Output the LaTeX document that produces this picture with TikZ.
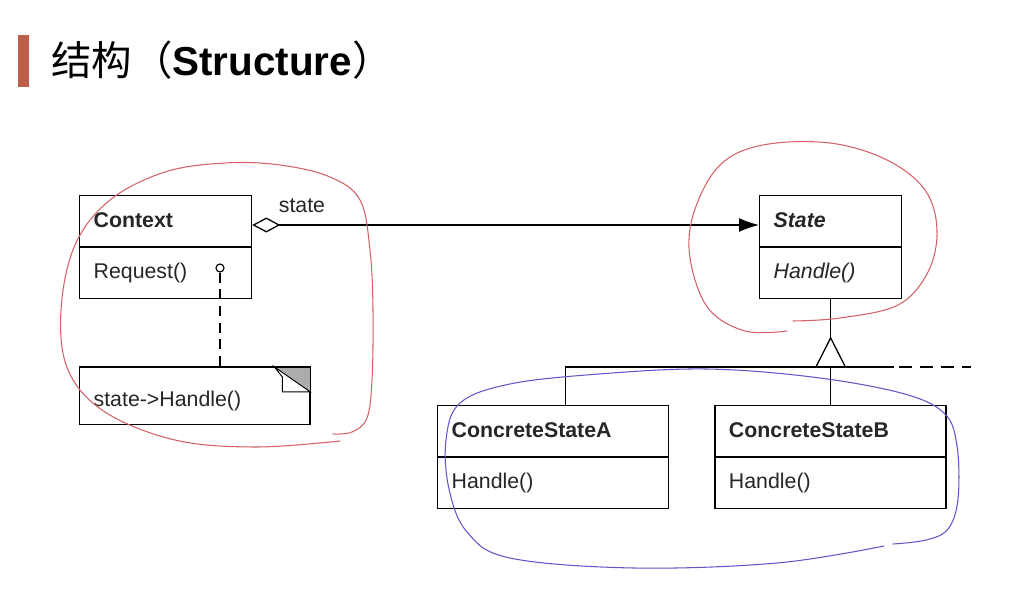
\documentclass[tikz,border=0pt]{standalone}
\usepackage{fontspec}
\setmainfont{Liberation Sans}
\newfontfamily\cjk{Noto Sans CJK SC}
\usetikzlibrary{arrows.meta,shapes.multipart,positioning}

\definecolor{titlebar}{RGB}{190,95,75}
\definecolor{penred}{RGB}{212,98,104}
\definecolor{penblue}{RGB}{100,85,200}

\newcommand{\boxstrut}{\rule[-0.56cm]{0pt}{1.5cm}}

\tikzset{
  umlclass/.style={draw, line width=1.1pt, rectangle split, rectangle split parts=2,
    anchor=north west, inner xsep=0.42cm, inner ysep=0pt, align=left,
    font=\fontsize{18.2}{22}\selectfont, text=black!85},
  notebox/.style={draw, line width=1.1pt, inner xsep=0.42cm, inner ysep=0pt, align=left,
    font=\fontsize{18.2}{22}\selectfont, text=black!85},
  pen/.style={line width=0.9pt, line cap=round},
}

\begin{document}
\begin{tikzpicture}[x=0.03cm, y=-0.03cm]
    \useasboundingbox[fill=white] (0,0) rectangle (1035,597);

    % Titre
    \fill[titlebar] (18,35) rectangle (29,87);
    \node[anchor=base west, inner sep=0pt] (title) at (51,76)
        {\fontsize{34.5}{40}\selectfont{\cjk 结构（}\textbf{Structure}{\cjk ）}};

    % Classes
    \node[umlclass, text width=4.32cm] (context) at (79,195)
        {\boxstrut\textbf{Context}\nodepart{two}\boxstrut Request()};
    \node[umlclass, text width=3.42cm] (state) at (759,195)
        {\boxstrut\textbf{\itshape State}\nodepart{two}\boxstrut\textit{Handle()}};
    \node[umlclass, text width=6.09cm] (csa) at (437,405)
        {\boxstrut\textbf{ConcreteStateA}\nodepart{two}\boxstrut Handle()};
    \node[umlclass, text width=6.09cm, right=1.35cm of csa.north east, anchor=north west] (csb)
        {\boxstrut\textbf{ConcreteStateB}\nodepart{two}\boxstrut Handle()};

    % Note
    \node[notebox, text width=6.06cm, below=2.04cm of context.south west, anchor=north west] (note)
        {\rule[-0.55cm]{0pt}{1.72cm}state->Handle()};
    \fill[gray!65] ([xshift=-1.08cm]note.north east) -- (note.north east)
        -- ([yshift=-0.75cm]note.north east) -- cycle;
    \draw[line width=0.8pt, fill=white] ([xshift=-1.08cm]note.north east) -- ([xshift=-0.84cm, yshift=-0.3cm]note.north east)
        -- ([xshift=-0.84cm, yshift=-0.75cm]note.north east) -- ([yshift=-0.75cm]note.north east) -- cycle;
    \draw[line width=1.1pt] (note.north west) -- (note.north east) -- (note.south east);

    % Lien note
    \node[circle, draw, line width=1pt, fill=white, inner sep=0pt, minimum size=0.24cm] (reqdot) at (220,268) {};
    \draw[line width=1pt, dash pattern=on 0.3cm off 0.2cm] (reqdot.south) -- (reqdot.south |- note.north);

    % Agregation
    \draw[line width=1.1pt, {Diamond[open, length=0.84cm, width=0.45cm]}-{Latex[length=0.6cm, width=0.42cm]}]
        ([yshift=-0.9cm]context.north east) -- ([yshift=-0.9cm]state.north west)
        node[pos=0, anchor=base west, xshift=0.66cm, yshift=0.36cm, font=\fontsize{18.2}{22}\selectfont, text=black!85] (statelbl) {state};

    % Heritage
    \coordinate (hub) at ([yshift=-2.04cm]state.south);
    \coordinate (apex) at ([yshift=0.87cm]hub);
    \draw[line width=1.1pt] (state.south) -- (apex);
    \draw[line width=1.1pt, line join=miter] (apex) -- ([xshift=-0.44cm]hub) -- ([xshift=0.44cm]hub) -- cycle;
    \draw[line width=1.1pt] ([xshift=0.37cm]csa.north) |- ([xshift=1.89cm]hub);
    \draw[line width=1.1pt] (hub) -- (hub |- csb.north);
    \draw[line width=1.1pt, dash pattern=on 0.39cm off 0.24cm] ([xshift=2.04cm]hub) -- ([xshift=4.2cm]hub);

    % Traits a main levee
    \draw[pen, penred] plot[smooth, tension=0.6] coordinates {
        (333,434) (352,432) (367,418) (372,380) (373,310) (370,250) (360,200) (330,177)
        (280,165) (225,163) (165,172) (110,200) (75,245) (61,310) (68,370) (105,412)
        (175,440) (255,447) (340,441)};
    \draw[pen, penred] plot[smooth, tension=0.6] coordinates {
        (787,331) (745,331) (708,308) (690,258) (694,212) (720,165) (763,145) (830,143)
        (887,160) (925,190) (937,230) (928,272) (898,305) (840,318) (793,321)};
    \draw[pen, penblue] plot[smooth, tension=0.6] coordinates {
        (884,546) (777,563) (634,568) (510,558) (467,532) (449,489) (446,440) (460,403)
        (510,384) (599,374) (706,369) (812,377) (901,393) (944,413) (957,446) (958,499)
        (948,529) (926,540) (893,544)};
\end{tikzpicture}
\end{document}
